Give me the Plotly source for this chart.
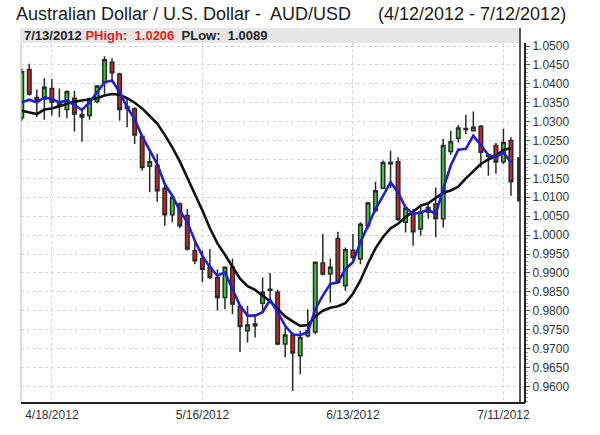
import plotly.graph_objects as go
import pandas as pd

# ---- data ----
dates = [f"{d.month}/{d.day}/{d.year}" for d in pd.bdate_range("2012-04-12", "2012-07-13")]

opens = [1.0310, 1.0438, 1.0364, 1.0360, 1.0388, 1.0351, 1.0332, 1.0362, 1.0319, 1.0316,
         1.0353, 1.0404, 1.0457, 1.0426, 1.0340, 1.0334, 1.0261, 1.0182, 1.0184, 1.0124,
         1.0054, 1.0082, 1.0052, 0.9959, 0.9938, 0.9915, 0.9888, 0.9835, 0.9915, 0.9811,
         0.9747, 0.9765, 0.9820, 0.9857, 0.9849, 0.9712, 0.9736, 0.9681, 0.9734, 0.9744,
         0.9926, 0.9897, 0.9991, 0.9866, 0.9960, 0.9937, 1.0025, 1.0065, 1.0124, 1.0192,
         1.0194, 1.0034, 1.0058, 1.0016, 1.0061, 1.0082, 1.0043, 1.0221, 1.0256, 1.0282,
         1.0276, 1.0288, 1.0212, 1.0237, 1.0194, 1.0250]
highs = [1.0440, 1.0453, 1.0385, 1.0415, 1.0413, 1.0388, 1.0383, 1.0382, 1.0334, 1.0364,
         1.0397, 1.0473, 1.0468, 1.0429, 1.0360, 1.0338, 1.0265, 1.0219, 1.0215, 1.0135,
         1.0104, 1.0086, 1.0069, 0.9985, 0.9959, 0.9963, 0.9910, 0.9917, 0.9938, 0.9813,
         0.9813, 0.9791, 0.9888, 0.9900, 0.9856, 0.9756, 0.9743, 0.9747, 0.9804, 0.9930,
         1.0003, 0.9938, 1.0009, 0.9967, 1.0003, 1.0034, 1.0088, 1.0141, 1.0197, 1.0223,
         1.0206, 1.0078, 1.0069, 1.0082, 1.0085, 1.0126, 1.0254, 1.0276, 1.0291, 1.0318,
         1.0327, 1.0291, 1.0216, 1.0244, 1.0281, 1.0259]
lows = [1.0303, 1.0369, 1.0312, 1.0305, 1.0316, 1.0312, 1.0309, 1.0274, 1.0247, 1.0305,
        1.0349, 1.0373, 1.0404, 1.0303, 1.0285, 1.0241, 1.0170, 1.0113, 1.0088, 1.0025,
        1.0034, 1.0018, 0.9959, 0.9923, 0.9875, 0.9884, 0.9800, 0.9804, 0.9791, 0.9691,
        0.9716, 0.9729, 0.9796, 0.9822, 0.9709, 0.9677, 0.9588, 0.9632, 0.9729, 0.9738,
        0.9893, 0.9822, 0.9871, 0.9853, 0.9935, 0.9923, 1.0016, 1.0060, 1.0122, 1.0124,
        1.0038, 1.0007, 0.9972, 0.9998, 1.0043, 0.9994, 1.0020, 1.0212, 1.0245, 1.0267,
        1.0274, 1.0179, 1.0157, 1.0162, 1.0188, 1.0104]
closes = [1.0432, 1.0373, 1.0356, 1.0391, 1.0351, 1.0342, 1.0379, 1.0320, 1.0312, 1.0360,
          1.0394, 1.0464, 1.0429, 1.0332, 1.0335, 1.0265, 1.0179, 1.0194, 1.0117, 1.0054,
          1.0100, 1.0025, 0.9963, 0.9932, 0.9910, 0.9888, 0.9835, 0.9915, 0.9818, 0.9758,
          0.9762, 0.9760, 0.9849, 0.9854, 0.9712, 0.9736, 0.9688, 0.9729, 0.9747, 0.9928,
          0.9897, 0.9915, 0.9875, 0.9961, 0.9941, 1.0029, 1.0085, 1.0117, 1.0192, 1.0189,
          1.0041, 1.0071, 1.0009, 1.0061, 1.0073, 1.0044, 1.0237, 1.0247, 1.0283, 1.0279,
          1.0285, 1.0219, 1.0208, 1.0193, 1.0245, 1.0141]

fast_ma = [1.0351, 1.0358, 1.0351, 1.0364, 1.0360, 1.0351, 1.0356, 1.0344, 1.0331, 1.0351,
           1.0378, 1.0404, 1.0409, 1.0378, 1.0338, 1.0307, 1.0261, 1.0223, 1.0188, 1.0135,
           1.0104, 1.0065, 1.0034, 0.9985, 0.9945, 0.9915, 0.9893, 0.9901, 0.9857, 0.9813,
           0.9787, 0.9787, 0.9796, 0.9829, 0.9796, 0.9760, 0.9737, 0.9736, 0.9743, 0.9804,
           0.9840, 0.9871, 0.9875, 0.9910, 0.9928, 0.9981, 1.0025, 1.0069, 1.0104, 1.0140,
           1.0113, 1.0073, 1.0056, 1.0060, 1.0067, 1.0056, 1.0122, 1.0184, 1.0226, 1.0228,
           1.0263, 1.0237, 1.0212, 1.0206, 1.0219, 1.0192]
slow_ma = [1.0329, 1.0325, 1.0320, 1.0332, 1.0335, 1.0341, 1.0347, 1.0353, 1.0356, 1.0358,
           1.0362, 1.0369, 1.0373, 1.0371, 1.0362, 1.0350, 1.0335, 1.0315, 1.0295, 1.0265,
           1.0232, 1.0195, 1.0152, 1.0110, 1.0065, 1.0018, 0.9978, 0.9948, 0.9915, 0.9885,
           0.9865, 0.9855, 0.9840, 0.9825, 0.9805, 0.9785, 0.9772, 0.9760, 0.9762, 0.9785,
           0.9800, 0.9808, 0.9812, 0.9820, 0.9845, 0.9880, 0.9925, 0.9965, 0.9995, 1.0018,
           1.0030, 1.0048, 1.0062, 1.0078, 1.0084, 1.0098, 1.0112, 1.0118, 1.0128, 1.0150,
           1.0168, 1.0188, 1.0200, 1.0210, 1.0225, 1.0230]

last_date = "7/13/2012"
last_high = 1.0206
last_low = 1.0089

x_tick_labels = ["4/18/2012", "5/16/2012", "6/13/2012", "7/11/2012"]

# ---- figure ----
FONT = "Liberation Sans, Arial, sans-serif"
candle_dates = dates[:len(opens)]

fig = go.Figure()
fig.add_trace(go.Candlestick(
    x=candle_dates, open=opens, high=highs, low=lows, close=closes,
    increasing=dict(fillcolor="#33cc33", line=dict(color="#2a2a2a", width=1.5)),
    decreasing=dict(fillcolor="#cc2222", line=dict(color="#2a2a2a", width=1.5)),
    whiskerwidth=0, showlegend=False, hoverinfo="skip"))
fig.add_trace(go.Scatter(x=candle_dates, y=slow_ma, mode="lines",
                         line=dict(color="#111111", width=2.6), showlegend=False))
fig.add_trace(go.Scatter(x=candle_dates, y=fast_ma, mode="lines",
                         line=dict(color="#1f1fd6", width=2.6), showlegend=False))
fig.add_trace(go.Scatter(x=[last_date, last_date], y=[last_low, last_high], mode="lines",
                         line=dict(color="#333333", width=3), showlegend=False))

L, R, T, B = 21, 75, 43, 32
W, H = 600, 435
pw = W - L - R
ph = H - T - B

def px_x(p):
    return (p - L) / pw

def px_y(p):
    return 1 - (p - T) / ph

fig.update_layout(
    width=W, height=H,
    margin=dict(l=L, r=R, t=T, b=B),
    paper_bgcolor="white", plot_bgcolor="white",
    font=dict(family=FONT, size=12, color="#333333"),
    showlegend=False,
    boxgap=0.33,
    xaxis=dict(
        type="category", categoryorder="array", categoryarray=dates,
        domain=[0, px_x(520)], range=[-0.1, 66.2],
        rangeslider=dict(visible=False),
        tickvals=x_tick_labels, ticktext=x_tick_labels,
        showgrid=True, gridcolor="#d4d4d4", griddash="dot", gridwidth=1,
        showline=False, ticks="", tickfont=dict(size=12, color="#333333"),
        ticklabelstandoff=3,
        zeroline=False,
    ),
    yaxis=dict(
        side="right", anchor="free", position=1.0,
        range=[0.9556, 1.0508],
        tick0=0.96, dtick=0.005, tickformat=".4f",
        showgrid=True, gridcolor="#d4d4d4", griddash="dot", gridwidth=1,
        showline=True, linecolor="#222222", linewidth=2,
        ticks="outside", ticklen=4, tickcolor="#555555",
        minor=dict(dtick=0.001, ticks="outside", ticklen=2, tickcolor="#999999"),
        tickfont=dict(size=12, color="#333333"),
        zeroline=False,
    ),
)

shapes = [
    # info bar
    dict(type="rect", xref="paper", yref="paper", x0=px_x(20), x1=px_x(520),
         y0=px_y(43), y1=px_y(28), fillcolor="#e6e6e6", line=dict(width=0), layer="below"),
    # right frame line
    dict(type="line", xref="paper", yref="paper", x0=px_x(520), x1=px_x(520),
         y0=0, y1=px_y(28), line=dict(color="#222222", width=1.5)),
    # left frame line
    dict(type="line", xref="paper", yref="paper", x0=0, x1=0,
         y0=0, y1=1, line=dict(color="#bbbbbb", width=1)),
    # bottom axis line
    dict(type="line", xref="paper", yref="paper", x0=0, x1=1,
         y0=0, y1=0, line=dict(color="#222222", width=2)),
]
fig.update_layout(shapes=shapes)

ann = [
    dict(text="Australian Dollar / U.S. Dollar -  AUD/USD", xref="paper", yref="paper",
         x=px_x(14), y=px_y(14), xanchor="left", yanchor="middle", showarrow=False,
         font=dict(family=FONT, size=18, color="#1a1a1a")),
    dict(text="(4/12/2012 - 7/12/2012)", xref="paper", yref="paper",
         x=px_x(376), y=px_y(14), xanchor="left", yanchor="middle", showarrow=False,
         font=dict(family=FONT, size=18, color="#1a1a1a")),
    dict(text="<b>7/13/2012 <span style='color:#e02424'>PHigh:  1.0206</span>  PLow:  1.0089</b>",
         xref="paper", yref="paper", x=px_x(22), y=px_y(35.5), xanchor="left", yanchor="middle",
         showarrow=False, font=dict(family=FONT, size=13, color="#222222")),
]
fig.update_layout(annotations=ann)

fig.write_html("out.html", config={"displayModeBar": False},
               post_script="document.body.style.margin='0';")
